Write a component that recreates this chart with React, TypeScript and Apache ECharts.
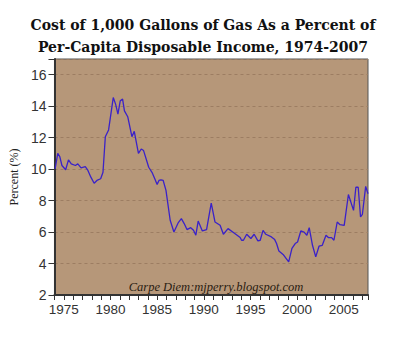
import React, { useEffect, useRef } from "react";
import * as echarts from "echarts";

const titleLines = [
  "Cost of 1,000 Gallons of Gas As a Percent of",
  "Per-Capita Disposable Income, 1974-2007",
];
const yAxisName = "Percent (%)";
const sourceNote = "Carpe Diem:mjperry.blogspot.com";

const years = [
  1974.07, 1974.35, 1974.57, 1974.8, 1975.2, 1975.5, 1975.8, 1976.25, 1976.5, 1976.85,
  1977.3, 1977.55, 1977.9, 1978.25, 1978.55, 1978.95, 1979.2, 1979.45, 1979.8, 1980.3,
  1980.55, 1980.8, 1981.05, 1981.3, 1981.5, 1981.85, 1982.3, 1982.55, 1983.0, 1983.3,
  1983.55, 1984.1, 1984.45, 1984.75, 1985.0, 1985.2, 1985.4, 1985.65, 1985.95, 1986.4,
  1986.8, 1987.25, 1987.6, 1987.9, 1988.2, 1988.6, 1988.9, 1989.15, 1989.4, 1989.85,
  1990.3, 1990.8, 1991.2, 1991.75, 1992.1, 1992.6, 1993.25, 1993.9, 1994.05, 1994.25,
  1994.6, 1995.05, 1995.4, 1995.8, 1996.05, 1996.35, 1996.65, 1997.25, 1997.6, 1997.8,
  1998.05, 1998.5, 1999.1, 1999.45, 1999.8, 2000.05, 2000.4, 2000.75, 2001.05, 2001.3,
  2001.65, 2002.0, 2002.35, 2002.7, 2003.1, 2003.35, 2003.7, 2003.95, 2004.3, 2004.6,
  2005.05, 2005.5, 2006.05, 2006.3, 2006.55, 2006.8, 2007.0, 2007.35, 2007.6,
];
const percents = [
  10.02, 11.0, 10.8, 10.23, 9.96, 10.59, 10.34, 10.23, 10.34, 10.08,
  10.16, 9.96, 9.49, 9.1, 9.28, 9.39, 9.8, 12.06, 12.49, 14.55,
  14.13, 13.5, 14.34, 14.45, 13.7, 13.33, 12.06, 12.4, 11.0, 11.28,
  11.18, 10.12, 9.8, 9.39, 9.03, 9.28, 9.32, 9.28, 8.65, 6.75,
  6.0, 6.58, 6.85, 6.54, 6.16, 6.28, 6.11, 5.8, 6.7, 6.07,
  6.16, 7.84, 6.64, 6.43, 5.86, 6.22, 5.94, 5.65, 5.48, 5.48,
  5.86, 5.59, 5.86, 5.44, 5.48, 6.11, 5.86, 5.69, 5.52, 5.27,
  4.8, 4.58, 4.11, 4.96, 5.27, 5.37, 6.07, 6.0, 5.8, 6.28,
  5.16, 4.42, 5.1, 5.16, 5.8, 5.65, 5.65, 5.48, 6.64, 6.47,
  6.43, 8.39, 7.38, 8.85, 8.85, 6.96, 7.13, 8.9, 8.44,
];

const xMin = 1974;
const xMax = 2007.6;
const yMin = 2;
const yMax = 17;

export default function App() {
  const ref = useRef<HTMLDivElement>(null);
  useEffect(() => {
    if (!ref.current) return;
    const chart = echarts.init(ref.current, null, { renderer: "svg" });
    const data = years.map((y, i) => [y, percents[i]]);
    const titleStyle = {
      fontFamily: "DejaVu Serif",
      fontWeight: "bold",
      fontSize: 14,
      fill: "#111",
      textAlign: "center",
      textVerticalAlign: "middle",
    };
    chart.setOption({
      animation: false,
      backgroundColor: "#ffffff",
      grid: {
        left: 54,
        top: 59,
        right: 32,
        bottom: 42,
        show: true,
        backgroundColor: "#b69779",
        borderColor: "#555",
        borderWidth: 1,
      },
      xAxis: {
        type: "value",
        min: xMin,
        max: xMax,
        interval: 1,
        axisLine: { show: true, onZero: false, lineStyle: { color: "#333", width: 2 } },
        axisTick: { show: true, length: 5, lineStyle: { color: "#333", width: 1 } },
        axisLabel: {
          fontFamily: "Liberation Sans",
          fontSize: 13.5,
          color: "#333",
          margin: 7,
          showMinLabel: true,
          showMaxLabel: true,
          formatter: (v: number) => (Math.abs(v % 5) < 1e-6 ? String(v) : ""),
        },
        splitLine: { show: false },
      },
      yAxis: {
        type: "value",
        min: yMin,
        max: yMax,
        interval: 2,
        name: yAxisName,
        nameLocation: "middle",
        nameGap: 28,
        nameTextStyle: { fontFamily: "Liberation Serif", fontSize: 12, color: "#222" },
        axisLine: { show: true, onZero: false, lineStyle: { color: "#333", width: 2 } },
        axisTick: { show: true, length: 6, lineStyle: { color: "#333", width: 1 } },
        axisLabel: {
          fontFamily: "Liberation Sans",
          fontSize: 14,
          color: "#333",
          margin: 8,
          formatter: (v: number) => (v === yMax ? "" : String(v)),
        },
        splitLine: {
          show: true,
          lineStyle: { color: "#9c7d62", type: [3, 3], width: 1 },
        },
      },
      graphic: [
        { type: "text", x: 203, y: 25, style: { ...titleStyle, text: titleLines[0] } },
        { type: "text", x: 203, y: 47, style: { ...titleStyle, text: titleLines[1] } },
        {
          type: "text",
          x: 216,
          y: 287,
          style: {
            text: sourceNote,
            fontFamily: "Liberation Serif",
            fontStyle: "italic",
            fontSize: 12.5,
            fill: "#2a1c12",
            textAlign: "center",
            textVerticalAlign: "middle",
          },
        },
      ],
      series: [
        {
          type: "line",
          data,
          showSymbol: false,
          symbol: "none",
          lineStyle: { color: "#3a22c8", width: 1.3 },
        },
      ],
    });
    return () => chart.dispose();
  }, []);
  return <div ref={ref} style={{ width: 400, height: 337, position: "absolute", left: 0, top: 0 }} />;
}
